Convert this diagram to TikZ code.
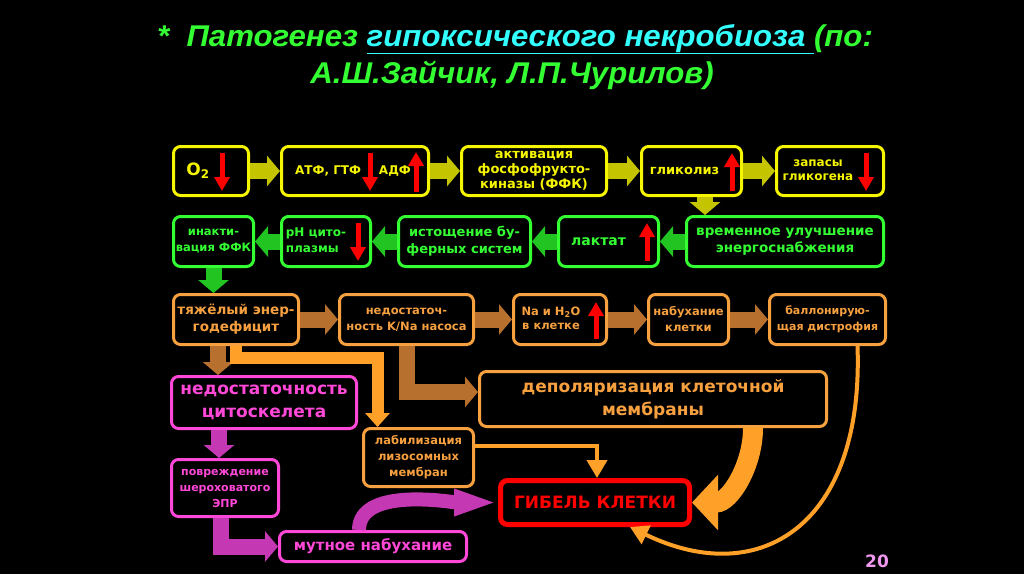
\documentclass[tikz,border=0pt]{standalone}
\usepackage{fontspec}
\setmainfont{DejaVu Sans}
\newfontfamily\titlefont[FakeStretch=1.04]{Liberation Sans}
\usetikzlibrary{arrows.meta}
\definecolor{yel}{HTML}{F5F500}
\definecolor{yelarr}{HTML}{C4C400}
\definecolor{grn}{HTML}{33FF33}
\definecolor{grnarr}{HTML}{22C422}
\definecolor{orn}{HTML}{F7A040}
\definecolor{ornarr}{HTML}{B8702E}
\definecolor{ornline}{HTML}{FFA028}
\definecolor{mag}{HTML}{FF48D8}
\definecolor{magarr}{HTML}{C438B4}
\definecolor{ttl}{HTML}{33FF33}
\definecolor{cyn}{HTML}{33FFFF}
\definecolor{pnum}{HTML}{F098F0}
\newcommand{\fsz}[2]{\fontsize{#1}{#2}\selectfont\bfseries}
\tikzset{
  box/.style={draw,line width=3pt,rounded corners=7pt,fill=black,align=center,inner sep=1pt},
  ybox/.style={box,draw=yel,text=yel},
  gbox/.style={box,draw=grn,text=grn},
  obox/.style={box,draw=orn,text=orn},
  mbox/.style={box,draw=mag,text=mag},
  fat/.style={line width=16pt,-{Triangle[width=30pt,length=13pt]}},
  yarr/.style={fat,draw=yelarr},
  garr/.style={fat,draw=grnarr},
  oarr/.style={fat,draw=ornarr},
  marr/.style={fat,draw=magarr},
  ind/.style={draw=red,line width=5pt,-{Triangle[width=15pt,length=14pt]}},
}
\begin{document}
\begin{tikzpicture}[x=1pt,y=1pt]
\useasboundingbox (0,0) rectangle (1024,-574);
\fill[black] (0,0) rectangle (1024,-574);
% title
\node[font=\titlefont\bfseries\itshape\fontsize{30}{34}\selectfont,text=ttl,anchor=base] (t1) at (515,-46)
  {*\ \ Патогенез \textcolor{cyn}{\underline{гипоксического некробиоза\ }}(по:};
\node[font=\titlefont\bfseries\itshape\fontsize{30}{34}\selectfont,text=ttl,anchor=base] (t2) at (512,-83)
  {А.Ш.Зайчик, Л.П.Чурилов)};
% row 1
\node[ybox,minimum width=75pt,minimum height=49pt,font=\fsz{17}{19}] (o2) at (211,-171) {O\textsubscript{2}\hspace{26pt}};
\node[ybox,minimum width=147pt,minimum height=49pt,font=\fsz{12}{14}] (atf) at (355,-171) {АТФ, ГТФ\hspace{18pt}АДФ\hspace{4pt}};
\node[ybox,minimum width=145pt,minimum height=49pt,font=\fsz{13}{15}] (akt) at (534,-171) {активация\\фосфофрукто-\\киназы (ФФК)};
\node[ybox,minimum width=100pt,minimum height=49pt,font=\fsz{13}{15}] (glik) at (691.5,-171) {гликолиз\hspace{14pt}};
\node[ybox,minimum width=107pt,minimum height=49pt,font=\fsz{12}{14}] (zap) at (830,-171) {\begin{tabular}{@{}c@{}}запасы\\гликогена\end{tabular}\hspace{24pt}};
% row 2
\node[gbox,minimum width=80pt,minimum height=50pt,font=\fsz{11.5}{16}] (inakt) at (213.5,-241.5) {инакти-\\вация ФФК};
\node[gbox,minimum width=89pt,minimum height=50pt,font=\fsz{12}{16}] (ph) at (326,-241.5) {\begin{tabular}{@{}l@{}}pH цито-\\плазмы\end{tabular}\hspace{20pt}};
\node[gbox,minimum width=132pt,minimum height=50pt,font=\fsz{13}{17}] (ist) at (464.5,-241.5) {истощение бу-\\ферных систем};
\node[gbox,minimum width=100pt,minimum height=50pt,font=\fsz{14}{16}] (lakt) at (608.5,-241.5) {лактат\hspace{20pt}};
\node[gbox,minimum width=197pt,minimum height=50pt,font=\fsz{13.5}{17}] (vrem) at (785,-241.5) {временное улучшение\\энергоснабжения};
% row 3
\node[obox,minimum width=125pt,minimum height=50pt,font=\fsz{13.5}{17}] (tyazh) at (236,-319.5) {тяжёлый энер-\\годефицит};
\node[obox,minimum width=134pt,minimum height=50pt,font=\fsz{11.5}{16}] (nedo) at (406.5,-319.5) {недостаточ-\\ность K/Na насоса};
\node[obox,minimum width=93pt,minimum height=50pt,font=\fsz{11.5}{14}] (na) at (560,-319.5) {\begin{tabular}{@{}c@{}}Na и H\textsubscript{2}O\\в клетке\end{tabular}\hspace{18pt}};
\node[obox,minimum width=80pt,minimum height=50pt,font=\fsz{11.5}{16}] (nab) at (688.5,-319.5) {набухание\\клетки};
\node[obox,minimum width=116pt,minimum height=50pt,font=\fsz{11}{16}] (bal) at (827.5,-319.5) {баллонирую-\\щая дистрофия};
% lower part
\node[mbox,minimum width=185pt,minimum height=52pt,font=\fsz{17}{23}] (cyto) at (264,-402.5) {недостаточность\\цитоскелета};
\node[obox,minimum width=347pt,minimum height=55pt,font=\fsz{17}{23}] (dep) at (653,-399) {деполяризация клеточной\\мембраны};
\node[obox,minimum width=110pt,minimum height=58pt,font=\fsz{11.5}{16}] (lab) at (418.5,-457.5) {лабилизация\\лизосомных\\мембран};
\node[mbox,minimum width=107pt,minimum height=57pt,font=\fsz{11}{16}] (povr) at (225,-488) {повреждение\\шероховатого\\ЭПР};
\node[box,draw=red,text=red,line width=5pt,minimum width=189pt,minimum height=44pt,font=\fsz{17}{19}] (gib) at (595,-502.5) {ГИБЕЛЬ КЛЕТКИ};
\node[mbox,minimum width=187pt,minimum height=30pt,font=\fsz{15}{17}] (mut) at (373,-546.5) {мутное набухание};
\node[font=\fsz{17}{19},text=pnum] (pg) at (877,-561) {20};
% red marks
\draw[ind] (222,-153) -- (222,-191);
\draw[ind] (370,-153) -- (370,-191);
\draw[ind] (416,-192) -- (416,-152);
\draw[ind] (732,-191) -- (732,-153);
\draw[ind] (866,-153) -- (866,-191);
\draw[ind] (358,-223) -- (358,-261);
\draw[ind] (647,-261) -- (647,-223);
\draw[ind] (596,-339) -- (596,-302);
% connectors
\draw[yarr] (o2) -- (atf);
\draw[yarr] (atf) -- (akt);
\draw[yarr] (akt) -- (glik);
\draw[yarr] (glik) -- (zap);
\draw[yarr] ([xshift=13.5pt]glik.south) -- ([xshift=13.5pt]glik.south |- vrem.north);
\draw[garr] (vrem) -- (lakt);
\draw[garr] (lakt) -- (ist);
\draw[garr] (ist) -- (ph);
\draw[garr] (ph) -- (inakt);
\draw[garr] (inakt.south) -- (inakt.south |- tyazh.north);
\draw[oarr] (tyazh) -- (nedo);
\draw[oarr] (nedo) -- (na);
\draw[oarr] (na) -- (nab);
\draw[oarr] (nab) -- (bal);
\draw[oarr] ([xshift=-18pt]tyazh.south) -- ([xshift=-18pt]tyazh.south |- cyto.north);
\draw[ornline,line width=12pt,-{Triangle[width=24pt,length=14pt]}] (tyazh.south) -- ++(0,-12) -| ([xshift=-41pt]lab.north);
\draw[oarr] (nedo.south) |- ([yshift=7pt]dep.west);
\draw[marr] ([xshift=-45pt]cyto.south) -- ([xshift=-45pt]cyto.south |- povr.north);
\draw[marr] ([xshift=-4pt]povr.south) |- (mut.west);
\draw[magarr,line width=14pt,-{Triangle[width=24pt,length=44pt]}] ([xshift=-14pt]mut.north) to[out=90,in=180,looseness=0.8] (gib.west);
\draw[ornline,line width=4pt,-{Triangle[width=20pt,length=18pt]}] ([yshift=12pt]lab.east) -| ([xshift=2pt]gib.north);
\draw[ornline,line width=20pt,-{Triangle[width=54pt,length=26pt]}] ([xshift=100pt]dep.south) to[out=-90,in=0] (gib.east);
\draw[ornline,line width=4pt,-{Triangle[width=20pt,length=18pt]}] ([xshift=30pt]bal.south) .. controls (864,-525) and (760,-590) .. ([xshift=35pt]gib.south);
\end{tikzpicture}
\end{document}
